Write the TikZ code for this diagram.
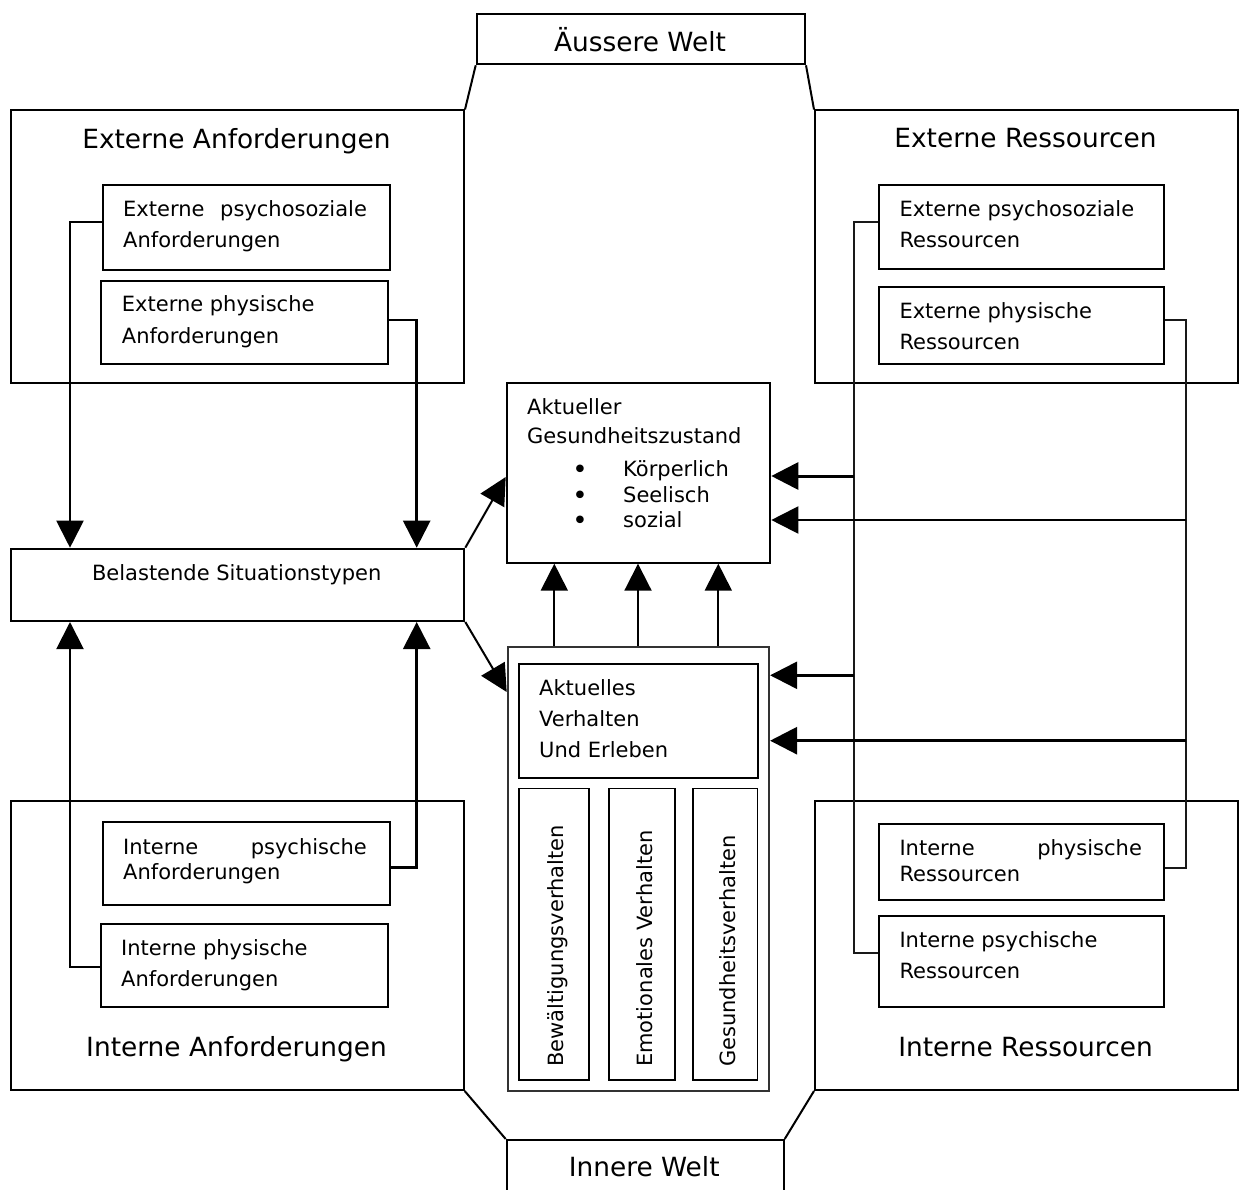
\documentclass[tikz,border=0pt]{standalone}
\usepackage{fontspec}
\setmainfont{DejaVu Sans}
\usetikzlibrary{arrows.meta,calc}

\tikzset{
  box/.style={draw, line width=2pt, inner sep=0pt, anchor=north west},
  titletext/.style={font=\fontsize{26.4}{31}\selectfont, inner sep=0pt, anchor=base},
  txt/.style={font=\fontsize{21}{31}\selectfont, inner sep=0pt, anchor=base west},
  bullet/.style={font=\fontsize{26}{31}\selectfont, inner sep=0pt, anchor=base},
  arr/.style={line width=2pt, -{Triangle[length=27pt,width=27pt]}},
  bus/.style={line width=1.7pt, draw=black!90},
}

\begin{document}
\begin{tikzpicture}[x=1pt,y=-1pt]
\useasboundingbox (0,0) rectangle (1239,1190);

% ---- frames of the four quadrants and the world labels ----
\node[box, minimum width=328.3pt, minimum height=50.6pt] (aw) at (475.7,12.7) {};
\node[titletext] (awt) at (640,51.7) {Äussere Welt};

\node[box, minimum width=453pt, minimum height=272pt] (ea) at (10,109.5) {};
\node[titletext] (eat) at (236.5,148.3) {Externe Anforderungen};

\node[box, minimum width=423.3pt, minimum height=272.5pt] (er) at (814,109.5) {};
\node[titletext] (ert) at (1025.5,147.7) {Externe Ressourcen};

\node[box, minimum width=452.7pt, minimum height=289pt] (ia) at (10,800) {};
\node[titletext] (iat) at (236.5,1056) {Interne Anforderungen};

\node[box, minimum width=422.7pt, minimum height=289pt] (ir) at (814,800) {};
\node[titletext] (irt) at (1025.5,1056) {Interne Ressourcen};

\node[box, minimum width=277pt, minimum height=70pt] (iw) at (505.7,1139) {};
\node[titletext] (iwt) at (644.2,1176.7) {Innere Welt};

% slanted edges joining the world labels to the quadrants
\draw[line width=2pt] (aw.south west) -- (ea.north east);
\draw[line width=2pt] (aw.south east) -- (er.north west);
\draw[line width=2pt] (ia.south east) -- (iw.north west);
\draw[line width=2pt] (ir.south west) -- (iw.north east);

% ---- external demands ----
\node[box, minimum width=287.3pt, minimum height=84.7pt] (epa) at (101.7,184) {};
\node[txt, font=\fontsize{21}{30.6}\selectfont] (epat) at (123,216.7)
  {\parbox[t]{250pt}{\makebox[243.7pt][s]{Externe psychosoziale}\\Anforderungen}};

\node[box, minimum width=287.3pt, minimum height=82.7pt] (eph) at (99.7,280) {};
\node[txt, font=\fontsize{21}{31.6}\selectfont] (epht) at (121.7,311.7)
  {\parbox[t]{250pt}{Externe physische\\Anforderungen}};

% ---- external resources ----
\node[box, minimum width=285pt, minimum height=84pt] (epr) at (877.7,184.3) {};
\node[txt, font=\fontsize{21}{31}\selectfont] (eprt) at (899.3,216.7)
  {\parbox[t]{250pt}{Externe psychosoziale\\Ressourcen}};

\node[box, minimum width=285pt, minimum height=77.3pt] (ephr) at (877.7,286) {};
\node[txt, font=\fontsize{21}{31}\selectfont] (ephrt) at (899.3,318.3)
  {\parbox[t]{250pt}{Externe physische\\Ressourcen}};

% ---- internal demands ----
\node[box, minimum width=287.3pt, minimum height=83pt] (ipa) at (101.7,821) {};
\node[txt, font=\fontsize{21}{25}\selectfont] (ipat) at (123,854)
  {\parbox[t]{250pt}{\makebox[243.7pt][s]{Interne psychische}\\Anforderungen}};

\node[box, minimum width=287.3pt, minimum height=82.7pt] (iph) at (99.7,923.3) {};
\node[txt, font=\fontsize{21}{31}\selectfont] (ipht) at (121,955.7)
  {\parbox[t]{250pt}{Interne physische\\Anforderungen}};

% ---- internal resources ----
\node[box, minimum width=285.6pt, minimum height=76.6pt] (iphr) at (877.7,822.7) {};
\node[txt, font=\fontsize{21}{26.7}\selectfont] (iphrt) at (899.3,855)
  {\parbox[t]{250pt}{\makebox[242.4pt][s]{Interne physische}\\Ressourcen}};

\node[box, minimum width=285.6pt, minimum height=91pt] (ipsr) at (877.7,915) {};
\node[txt, font=\fontsize{21}{31}\selectfont] (ipsrt) at (899.3,947.3)
  {\parbox[t]{250pt}{Interne psychische\\Ressourcen}};

% ---- stressful situations ----
\node[box, minimum width=453.3pt, minimum height=72.3pt] (bel) at (10,547.7) {};
\node[txt, anchor=base] (belt) at (236.7,580) {Belastende Situationstypen};

% ---- current state of health ----
\node[box, minimum width=263.6pt, minimum height=179.4pt] (ag) at (505.7,382.3) {};
\node[txt, font=\fontsize{21}{29}\selectfont] (agt) at (527,414)
  {\parbox[t]{250pt}{Aktueller\\Gesundheitszustand}};
\node[bullet] (bul1) at (580,478) {•};
\node[bullet] (bul2) at (580,504) {•};
\node[bullet] (bul3) at (580,529) {•};
\node[txt] (agk) at (623,476.7) {Körperlich};
\node[txt] (ags) at (623,502.7) {Seelisch};
\node[txt] (agz) at (623,527.7) {sozial};

% ---- current behaviour and experience ----
\node[box, line width=1.8pt, draw=black!80, minimum width=261.6pt, minimum height=444pt] (av) at (506.7,646) {};
\node[box, minimum width=239.6pt, minimum height=113.4pt] (avi) at (517.7,663.3) {};
\node[txt, font=\fontsize{21}{31}\selectfont] (avit) at (539,695)
  {\parbox[t]{200pt}{Aktuelles\\Verhalten\\Und Erleben}};

\node[box, line width=1.6pt, minimum width=70pt, minimum height=291.6pt] (v1) at (518.3,787.7) {};
\node[box, line width=1.6pt, minimum width=65.7pt, minimum height=291.6pt] (v2) at (608.3,787.7) {};
\node[box, line width=1.6pt, minimum width=64.4pt, minimum height=291.6pt] (v3) at (692.3,787.7) {};
\node[txt, rotate=90] (v1t) at (563,1067) {Bewältigungsverhalten};
\node[txt, rotate=90] (v2t) at (652,1067) {Emotionales Verhalten};
\node[txt, rotate=90] (v3t) at (735,1067) {Gesundheitsverhalten};

% ---- connectors on the demand side ----
\draw[arr] (epa.west |- 0,222) -| (bel.north -| 70,0);
\draw[arr, line width=2.5pt] (eph.east |- 0,320) -| (bel.north -| 416.7,0);
\draw[arr, line width=2.5pt] (ipa.east |- 0,867.7) -| (bel.south -| 416.7,0);
\draw[arr] (iph.west |- 0,967.3) -| (bel.south -| 70,0);

\draw[arr] (bel.north east) -- (ag.west |- 0,477);
\draw[arr] (bel.south east) -- (av.west |- 0,692);

\draw[arr] (av.north -| 554.3,0) -- (ag.south -| 554.3,0);
\draw[arr] (av.north -| 638,0) -- (ag.south -| 638,0);
\draw[arr] (av.north -| 718.3,0) -- (ag.south -| 718.3,0);

% ---- connectors on the resource side ----
\draw[bus] (epr.west |- 0,222) -| (854.3,953.3) -- (ipsr.west |- 0,953.3);
\draw[bus] (ephr.east |- 0,320) -| (1186,867.7) -- (iphr.east |- 0,867.7);

\coordinate (j1) at (854.3,476);
\coordinate (j2) at (1186,520);
\coordinate (j3) at (854.3,675.3);
\coordinate (j4) at (1186,740.7);
\draw[arr, line width=3pt] (j1) -- (ag.east |- j1);
\draw[arr] (j2) -- (ag.east |- j2);
\draw[arr, line width=2.5pt] (j3) -- (av.east |- j3);
\draw[arr, line width=3pt] (j4) -- (av.east |- j4);

\end{tikzpicture}
\end{document}
